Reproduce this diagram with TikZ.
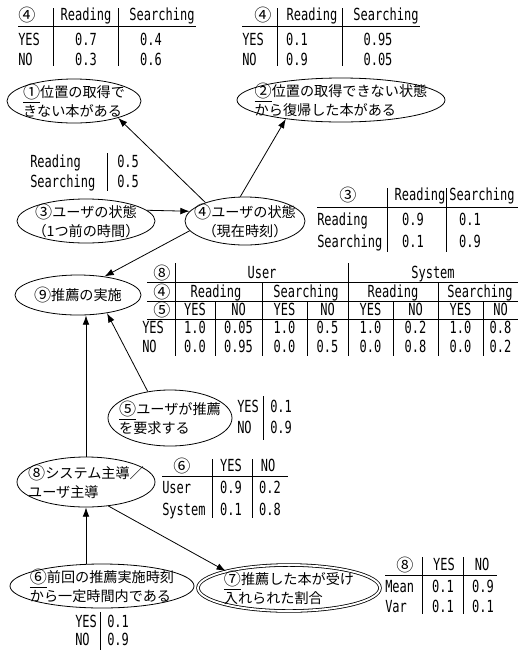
\documentclass[tikz,border=0pt]{standalone}
\usepackage{fontspec}
\setmainfont{Noto Sans CJK JP}
\newfontfamily\jp{Noto Sans CJK JP}
\newfontfamily\hw[FakeStretch=0.72]{DejaVu Sans Mono}
\usetikzlibrary{shapes.geometric,arrows.meta}
\newcommand{\cn}[1]{{\jp\fontsize{12.8pt}{13pt}\selectfont\raisebox{-0.8pt}{#1}}}
\tikzset{
  var/.style={ellipse, draw, line width=0.6pt, inner sep=0pt},
  obsvar/.style={var, double, double distance=1.4pt},
  vtext/.style={inner sep=0pt, align=left, font=\jp\fontsize{10.6pt}{14.5pt}\selectfont},
  cell/.style={inner sep=0pt, anchor=base, font=\hw\fontsize{12.5pt}{14pt}\selectfont},
  lcell/.style={cell, anchor=base west},
  tabline/.style={line width=0.6pt},
  link/.style={-{Latex[length=7pt,width=5pt]}, line width=0.6pt},
}

\begin{document}
\begin{tikzpicture}[x=0.75pt, y=-0.75pt]
\useasboundingbox (0,0) rectangle (518,654);

% variables
\node[var, minimum width=134*0.75pt, minimum height=44*0.75pt,
  label={[vtext]center:\underline{\cn{①}}位置の取得で\\きない本がある}] (n1) at (74,101) {};
\node[var, minimum width=208*0.75pt, minimum height=44*0.75pt,
  label={[vtext]center:\underline{\cn{②}}位置の取得できない状態\\から復帰した本がある}] (n2) at (341,100) {};
\node[var, minimum width=138*0.75pt, minimum height=44*0.75pt,
  label={[vtext, align=center]center:\cn{③}ユーザの状態\\（1つ前の時間）}] (n3) at (86,221) {};
\node[var, minimum width=120*0.75pt, minimum height=48*0.75pt,
  label={[vtext, align=center]center:\cn{④}ユーザの状態\\（現在時刻）}] (n4) at (245,221) {};
\node[var, minimum width=126*0.75pt, minimum height=40*0.75pt,
  label={[vtext]center:\cn{⑨}推薦の実施}] (n9) at (78,295) {};
\node[var, minimum width=124*0.75pt, minimum height=56*0.75pt,
  label={[vtext]center:\underline{\cn{⑤}}ユーザが推薦\\を要求する}] (n5) at (170,418) {};
\node[var, minimum width=138*0.75pt, minimum height=50*0.75pt,
  label={[vtext]center:\cn{⑧}システム主導／\\ユーザ主導}] (n8) at (86,482) {};
\node[var, minimum width=184*0.75pt, minimum height=44*0.75pt,
  label={[vtext]center:\underline{\cn{⑥}}前回の推薦実施時刻\\から一定時間内である}] (n6) at (102,586) {};
\node[obsvar, minimum width=182*0.75pt, minimum height=46*0.75pt,
  label={[vtext]center:\underline{\cn{⑦}}推薦した本が受け\\入れられた割合}] (n7) at (289,588) {};

\draw[link] (n4.155) -- (n1.339);
\draw[link] (n4.101) -- (n2.199);
\draw[link] (n3.10) -- (n4.170);
\draw[link] (n4.190) -- (n9.35);
\draw[link] (n5.130) -- (n9.328);
\draw[link] (n8.north) -- (n8.north |- n9.south);
\draw[link] (n8.south |- n6.north) -- (n8.south);
\draw[link] (n8.313) -- (n7.165);

% table for (1)
\foreach \t/\x [count=\i] in {\cn{④}/27, Reading/86, Searching/162}
  \node[cell] (pa-h\i) at (\x,20) {\t};
\foreach \t/\y [count=\i] in {YES/45, NO/65}
  \node[lcell] (pa-r\i) at (18,\y) {\t};
\foreach \t/\x/\y [count=\i] in {0.7/86/45, 0.4/151/45, 0.3/86/65, 0.6/151/65}
  \node[cell] (pa-v\i) at (\x,\y) {\t};
\draw[tabline] (18,26) -- (196,26);
\draw[tabline] (53,8) -- (53,66);
\draw[tabline] (118,8) -- (118,66);

% table for (2)
\foreach \t/\x [count=\i] in {\cn{④}/263, Reading/312, Searching/386}
  \node[cell] (pb-h\i) at (\x,20) {\t};
\foreach \t/\y [count=\i] in {YES/45, NO/65}
  \node[lcell] (pb-r\i) at (242,\y) {\t};
\foreach \t/\x/\y [count=\i] in {0.1/297/45, 0.95/378/45, 0.9/297/65, 0.05/378/65}
  \node[cell] (pb-v\i) at (\x,\y) {\t};
\draw[tabline] (242,26) -- (420,26);
\draw[tabline] (277,8) -- (277,66);
\draw[tabline] (342,8) -- (342,66);

% table for (3)
\foreach \t/\y [count=\i] in {Reading/167, Searching/187}
  \node[lcell] (pc-r\i) at (30,\y) {\t};
\foreach \y [count=\i] in {167,187}
  \node[lcell] (pc-v\i) at (117,\y) {0.5};
\draw[tabline] (107,153) -- (107,191);

% table for (4)
\foreach \t/\x [count=\i] in {\cn{③}/348, Reading/420, Searching/482}
  \node[cell] (pd-h\i) at (\x,200) {\t};
\foreach \t/\y [count=\i] in {Reading/225, Searching/247}
  \node[lcell] (pd-r\i) at (317,\y) {\t};
\foreach \t/\x/\y [count=\i] in {0.9/413/225, 0.1/470/225, 0.1/413/247, 0.9/470/247}
  \node[cell] (pd-v\i) at (\x,\y) {\t};
\draw[tabline] (317,207) -- (518,207);
\draw[tabline] (387,188) -- (387,252);
\draw[tabline] (446,188) -- (446,252);

% table for (9)
\foreach \t/\y [count=\i] in {\cn{⑧}/278, \cn{④}/297, \cn{⑤}/315}
  \node[cell] (pe-h\i) at (162,\y) {\t};
\node[cell] (pe-u) at (262,278) {User};
\node[cell] (pe-s) at (433,278) {System};
\foreach \t/\x [count=\i] in {Reading/216, Searching/306, Reading/393, Searching/480}
  \node[cell] (pe-g\i) at (\x,297) {\t};
\foreach \x [count=\i] in {195,284.5,370.5,460.5}
  \node[cell] (pe-y\i) at (\x,315) {YES};
\foreach \x [count=\i] in {238.5,327.5,415.5,500.5}
  \node[cell] (pe-n\i) at (\x,315) {NO};
\foreach \t/\y [count=\i] in {YES/333, NO/352}
  \node[lcell] (pe-r\i) at (142,\y) {\t};
\foreach \a/\b/\x [count=\i] in {1.0/0.0/195, 0.05/0.95/238.5, 1.0/0.0/284.5, 0.5/0.5/327.5,
    1.0/0.0/370.5, 0.2/0.8/415.5, 1.0/0.0/460.5, 0.8/0.2/500.5} {
  \node[cell] (pe-a\i) at (\x,333) {\a};
  \node[cell] (pe-b\i) at (\x,352) {\b};
}
\foreach \y in {282,301,319}
  \draw[tabline] (147,\y) -- (518,\y);
\foreach \x in {175,348}
  \draw[tabline] (\x,263) -- (\x,356);
\foreach \x in {262,438}
  \draw[tabline] (\x,282) -- (\x,356);
\foreach \x in {215,307,393,483}
  \draw[tabline] (\x,301) -- (\x,356);

% table for (5)
\foreach \t/\y [count=\i] in {YES/412, NO/433}
  \node[lcell] (pf-r\i) at (237,\y) {\t};
\foreach \t/\y [count=\i] in {0.1/412, 0.9/433}
  \node[lcell] (pf-v\i) at (270,\y) {\t};
\draw[tabline] (263,396) -- (263,440);

% table for (8)
\foreach \t/\x [count=\i] in {\cn{⑥}/182, YES/231, NO/268}
  \node[cell] (pg-h\i) at (\x,471) {\t};
\foreach \t/\y [count=\i] in {User/493, System/515}
  \node[lcell] (pg-r\i) at (162,\y) {\t};
\foreach \t/\x/\y [count=\i] in {0.9/231/493, 0.2/270/493, 0.1/231/515, 0.8/270/515}
  \node[cell] (pg-v\i) at (\x,\y) {\t};
\draw[tabline] (162,476) -- (288,476);
\draw[tabline] (212,459) -- (212,518);
\draw[tabline] (252,459) -- (252,518);

% table for (6)
\foreach \t/\y [count=\i] in {YES/627, NO/645}
  \node[lcell] (ph-r\i) at (75,\y) {\t};
\foreach \t/\y [count=\i] in {0.1/627, 0.9/645}
  \node[lcell] (ph-v\i) at (107,\y) {\t};
\draw[tabline] (100,612) -- (100,650);

% table for (7)
\foreach \t/\x [count=\i] in {\cn{⑧}/405, YES/444, NO/482}
  \node[cell] (pi-h\i) at (\x,570) {\t};
\foreach \t/\y [count=\i] in {Mean/592, Var/612}
  \node[lcell] (pi-r\i) at (385,\y) {\t};
\foreach \t/\x/\y [count=\i] in {0.1/443/592, 0.9/483/592, 0.1/443/612, 0.1/483/612}
  \node[cell] (pi-v\i) at (\x,\y) {\t};
\draw[tabline] (385,575) -- (497,575);
\draw[tabline] (422,557) -- (422,614);
\draw[tabline] (463,557) -- (463,614);

\end{tikzpicture}
\end{document}
